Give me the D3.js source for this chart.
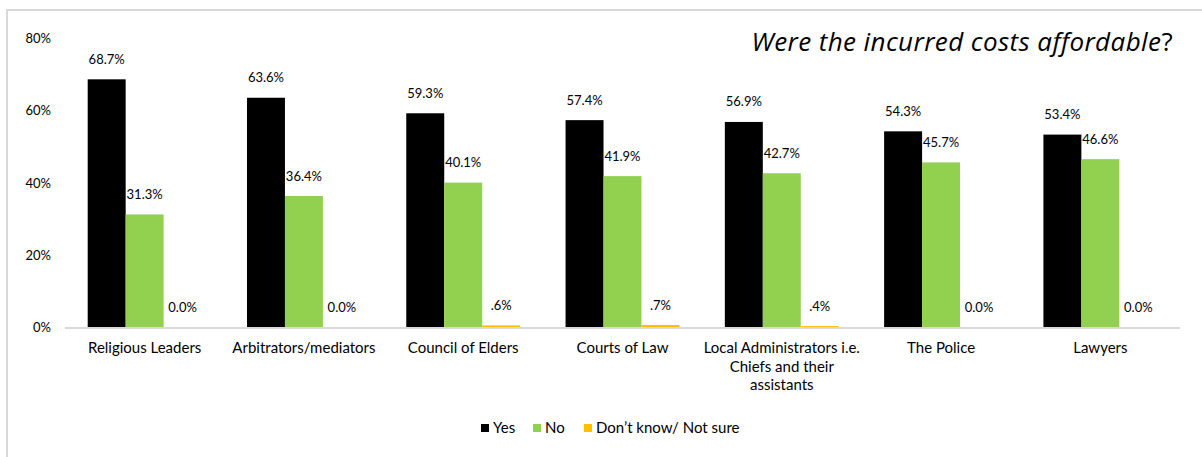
<!DOCTYPE html>
<html>
<head>
<meta charset="utf-8">
<script src="https://cdn.jsdelivr.net/npm/d3@7"></script>
<style>
  html, body { margin: 0; padding: 0; background: #fff; }
  svg { display: block; }
</style>
</head>
<body>
<svg id="chart" width="1202" height="457"></svg>
<script>
// Survey answers per justice provider
const categories = [
  ["Religious Leaders"],
  ["Arbitrators/mediators"],
  ["Council of Elders"],
  ["Courts of Law"],
  ["Local Administrators i.e.", "Chiefs and their", "assistants"],
  ["The Police"],
  ["Lawyers"]
];
const seriesNames = ["Yes", "No", "Don\u2019t know/ Not sure"];
const yesValues = [68.7, 63.6, 59.3, 57.4, 56.9, 54.3, 53.4];
const noValues = [31.3, 36.4, 40.1, 41.9, 42.7, 45.7, 46.6];
const dkValues = [0.0, 0.0, 0.6, 0.7, 0.4, 0.0, 0.0];
const dkLabels = ["0.0%", "0.0%", ".6%", ".7%", ".4%", "0.0%", "0.0%"];
const yTicks = [0, 20, 40, 60, 80];
const colors = ["#000000", "#92D050", "#FFC000"];

const fmt = v => v.toFixed(1) + "%";
const series = [
  { name: seriesNames[0], values: yesValues, labels: yesValues.map(fmt) },
  { name: seriesNames[1], values: noValues, labels: noValues.map(fmt) },
  { name: seriesNames[2], values: dkValues, labels: dkLabels }
];

const svg = d3.select("#chart");
const font = "Lato, 'Open Sans', sans-serif";

// outer frame
svg.append("path")
  .attr("d", "M7,457 V10 H1202")
  .attr("fill", "none")
  .attr("stroke", "#d9d9d9")
  .attr("stroke-width", 2);

const plotLeft = 65, plotRight = 1180, plotTop = 38.5, plotBottom = 327.5;

const x0 = d3.scaleBand()
  .domain(d3.range(categories.length))
  .range([plotLeft, plotRight])
  .paddingInner(0.285)
  .paddingOuter(0.1425);

const x1 = d3.scaleBand()
  .domain(d3.range(series.length))
  .range([0, x0.bandwidth()]);

const y = d3.scaleLinear().domain([0, 80]).range([plotBottom, plotTop]);

// y axis labels
const yAxis = d3.axisLeft(y)
  .tickValues(yTicks)
  .tickFormat(d => d + "%")
  .tickSize(0)
  .tickPadding(0);
const gy = svg.append("g").attr("transform", "translate(51,0)").call(yAxis);
gy.select(".domain").remove();
gy.selectAll("text")
  .attr("font-family", font)
  .attr("font-size", 13)
  .attr("fill", "#000");

// bars
const groups = svg.append("g").selectAll("g")
  .data(categories)
  .join("g")
  .attr("transform", (d, i) => `translate(${x0(i)},0)`);

series.forEach((s, si) => {
  groups.append("rect")
    .attr("x", x1(si))
    .attr("width", x1.bandwidth())
    .attr("y", (d, i) => y(s.values[i]))
    .attr("height", (d, i) => plotBottom - y(s.values[i]))
    .attr("fill", colors[si]);
});

// baseline
svg.append("line")
  .attr("x1", plotLeft).attr("x2", plotRight)
  .attr("y1", plotBottom + 0.5).attr("y2", plotBottom + 0.5)
  .attr("stroke", "#d9d9d9")
  .attr("stroke-width", 2);

// value labels
series.forEach((s, si) => {
  groups.append("text")
    .attr("x", x1(si) + x1.bandwidth() / 2)
    .attr("y", (d, i) => y(s.values[i]) - 20)
    .attr("dy", "0.35em")
    .attr("text-anchor", "middle")
    .attr("font-family", font)
    .attr("font-size", 13)
    .attr("fill", "#000")
    .text((d, i) => s.labels[i]);
});

// category labels
groups.append("text")
  .attr("text-anchor", "middle")
  .attr("font-family", font)
  .attr("font-size", 15)
  .attr("fill", "#000")
  .attr("transform", `translate(${x0.bandwidth() / 2},0)`)
  .each(function(lines) {
    d3.select(this).selectAll("tspan")
      .data(lines)
      .join("tspan")
      .attr("x", 0)
      .attr("y", (l, j) => 348 + j * 18.5)
      .attr("dy", "0.35em")
      .text(l => l);
  });

// title
svg.append("text")
  .attr("x", 1173)
  .attr("y", 42)
  .attr("dy", "0.35em")
  .attr("text-anchor", "end")
  .attr("font-family", "'Open Sans', sans-serif")
  .attr("font-size", 26)
  .attr("letter-spacing", 0.4)
  .attr("fill", "#000")
  .call(t => {
    t.append("tspan").attr("font-style", "italic").text("Were the incurred costs affordable");
    t.append("tspan").text("?");
  });

// legend
const legendX = [481, 533, 584];
const legend = svg.append("g").selectAll("g")
  .data(series)
  .join("g")
  .attr("transform", (d, i) => `translate(${legendX[i]},428)`);
legend.append("rect")
  .attr("x", 0).attr("y", -4)
  .attr("width", 8).attr("height", 8)
  .attr("fill", (d, i) => colors[i]);
legend.append("text")
  .attr("x", 12)
  .attr("dy", "0.35em")
  .attr("font-family", font)
  .attr("font-size", 15)
  .attr("fill", "#000")
  .text(d => d.name);
</script>
</body>
</html>
